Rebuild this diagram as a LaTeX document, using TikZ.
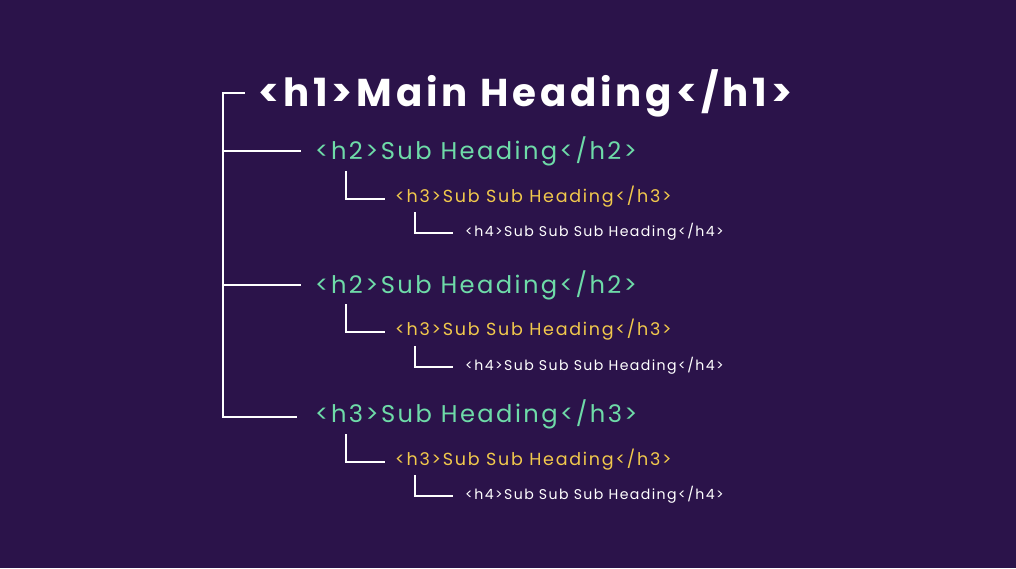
\documentclass[tikz,border=0pt]{standalone}
\usepackage{fontspec}
\setmainfont{Poppins}
\newfontfamily\spaced[LetterSpace=10]{Poppins}
\definecolor{bg}{HTML}{2B134A}
\definecolor{gr}{HTML}{6EDBA8}
\definecolor{yl}{HTML}{F2C94C}
\begin{document}
\begin{tikzpicture}[x=1pt,y=-1pt,
  ln/.style={white,line width=2.6pt},
  t/.style={anchor=west,inner sep=0pt},
  h1/.style={t,white,font=\spaced\fontsize{38.8}{42}\selectfont\bfseries},
  h2/.style={t,gr,font=\spaced\fontsize{24.2}{26}\selectfont},
  h3/.style={t,yl,font=\spaced\fontsize{17.5}{19}\selectfont},
  h4/.style={t,white,font=\spaced\fontsize{14.1}{15}\selectfont}]
\fill[bg] (0,0) rectangle (1016,568);
\useasboundingbox (0,0) rectangle (1016,568);
\node[h1] (a) at (258,93) {<h1>Main Heading</h1>};
\node[h2] (b1) at (315,151) {<h2>Sub Heading</h2>};
\node[h2] (b2) at (315,285) {<h2>Sub Heading</h2>};
\node[h2] (b3) at (315,414) {<h3>Sub Heading</h3>};
\foreach \y/\n in {197/1,330/2,460/3}{
  \node[h3] (c\n) at (395,\y) {<h3>Sub Sub Heading</h3>};
  \draw[ln] (346,\y-26) |- (385,\y+2);
}
\foreach \y/\n in {232/1,366/2,495/3}{
  \node[h4] (d\n) at (465,\y) {<h4>Sub Sub Sub Heading</h4>};
  \draw[ln] (415,\y-20) |- (453,\y+1);
}
\draw[ln] (245,93) -| (223,417) -- (297,417);
\draw[ln] (223,151) -- (301,151);
\draw[ln] (223,285) -- (301,285);
\end{tikzpicture}
\end{document}
